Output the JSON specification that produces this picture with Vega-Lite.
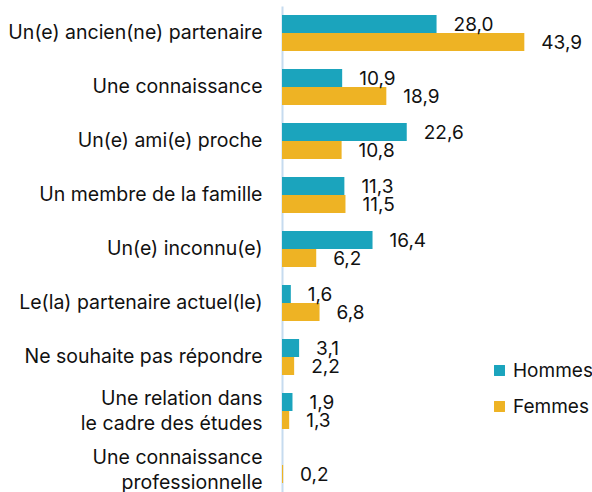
{
  "$schema": "https://vega.github.io/schema/vega-lite/v6.json",
  "autosize": {"type": "none"},
  "padding": {"left": 282, "top": 6, "right": 34, "bottom": 0},
  "width": 276,
  "height": 486,
  "config": {
    "locale": {"number": {"decimal": ",", "thousands": " ", "grouping": [3], "currency": ["", " €"]}},
    "view": {"stroke": null},
    "font": "Inter"
  },
  "data": {
    "values": [
      {"cat": "Un(e) ancien(ne) partenaire", "sexe": "Hommes", "v": 28.0},
      {"cat": "Un(e) ancien(ne) partenaire", "sexe": "Femmes", "v": 43.9},
      {"cat": "Une connaissance", "sexe": "Hommes", "v": 10.9},
      {"cat": "Une connaissance", "sexe": "Femmes", "v": 18.9},
      {"cat": "Un(e) ami(e) proche", "sexe": "Hommes", "v": 22.6},
      {"cat": "Un(e) ami(e) proche", "sexe": "Femmes", "v": 10.8},
      {"cat": "Un membre de la famille", "sexe": "Hommes", "v": 11.3},
      {"cat": "Un membre de la famille", "sexe": "Femmes", "v": 11.5},
      {"cat": "Un(e) inconnu(e)", "sexe": "Hommes", "v": 16.4},
      {"cat": "Un(e) inconnu(e)", "sexe": "Femmes", "v": 6.2},
      {"cat": "Le(la) partenaire actuel(le)", "sexe": "Hommes", "v": 1.6},
      {"cat": "Le(la) partenaire actuel(le)", "sexe": "Femmes", "v": 6.8},
      {"cat": "Ne souhaite pas répondre", "sexe": "Hommes", "v": 3.1},
      {"cat": "Ne souhaite pas répondre", "sexe": "Femmes", "v": 2.2},
      {"cat": "Une relation dans le cadre des études", "sexe": "Hommes", "v": 1.9},
      {"cat": "Une relation dans le cadre des études", "sexe": "Femmes", "v": 1.3},
      {"cat": "Une connaissance professionnelle", "sexe": "Hommes", "v": 0},
      {"cat": "Une connaissance professionnelle", "sexe": "Femmes", "v": 0.2}
    ]
  },
  "encoding": {
    "y": {
      "field": "cat",
      "type": "nominal",
      "sort": null,
      "scale": {"paddingInner": 0.3333, "paddingOuter": 0.1667},
      "axis": {
        "title": null,
        "ticks": false,
        "domainColor": "#c6dbef",
        "domainWidth": 2,
        "labelPadding": 20,
        "labelFontSize": 19.5,
        "labelColor": "#111111",
        "labelLimit": 300,
        "labelLineHeight": 25,
        "labelOffset": {
          "condition": [
            {"test": "datum.value == 'Une relation dans le cadre des études'", "value": -12},
            {"test": "datum.value == 'Une connaissance professionnelle'", "value": -7}
          ],
          "value": 0
        },
        "labelExpr": "datum.label == 'Une relation dans le cadre des études' ? ['Une relation dans', 'le cadre des études'] : datum.label == 'Une connaissance professionnelle' ? ['Une connaissance', 'professionnelle'] : datum.label"
      }
    },
    "yOffset": {"field": "sexe", "type": "nominal", "sort": ["Hommes", "Femmes"]},
    "x": {
      "field": "v",
      "type": "quantitative",
      "scale": {"domain": [0, 50], "nice": false},
      "axis": null
    }
  },
  "layer": [
    {
      "mark": {"type": "bar", "cornerRadius": 0},
      "encoding": {
        "color": {
          "field": "sexe",
          "type": "nominal",
          "scale": {"domain": ["Hommes", "Femmes"], "range": ["#1ba4bd", "#eeb324"]},
          "legend": {
            "title": null,
            "orient": "none",
            "legendX": 208,
            "legendY": 355,
            "padding": 0,
            "symbolType": "square",
            "symbolSize": 120,
            "symbolStrokeWidth": 0,
            "labelFontSize": 19,
            "labelColor": "#111111",
            "labelOffset": 4,
            "rowPadding": 16
          }
        }
      }
    },
    {
      "transform": [{"filter": "datum.v > 0"}],
      "mark": {"type": "text", "align": "left", "baseline": "middle", "dx": 17, "dy": 1, "fontSize": 19, "color": "#111111"},
      "encoding": {
        "text": {"field": "v", "type": "quantitative", "format": ".1f"}
      }
    }
  ]
}
